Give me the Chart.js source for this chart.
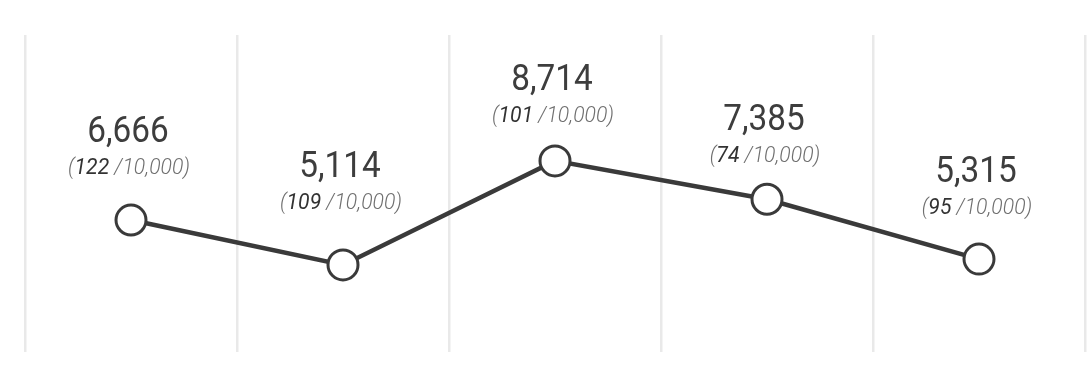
<!DOCTYPE html>
<html>
<head>
<meta charset="utf-8">
<script src="https://cdn.jsdelivr.net/npm/chart.js@4"></script>
<style>
  html, body { margin: 0; padding: 0; background: #fff; }
</style>
</head>
<body>
<canvas id="c" width="1089" height="371"></canvas>
<script>
// five periods, incident count + rate per 10,000
const periods = ["P1", "P2", "P3", "P4", "P5"];
const counts = [6666, 5114, 8714, 7385, 5315];
const rates = [122, 109, 101, 74, 95];
const rateBase = "10,000";

const FONT = "Roboto, 'Liberation Sans', sans-serif";
const labelLift = [78, 88, 71, 69, 77];   // big-number baseline above its point
const subGap = 32;                        // sub line baseline below big number

// draws "6,666" + "(122 /10,000)" above every point
const pointLabels = {
  id: "pointLabels",
  afterDatasetsDraw(chart) {
    const ctx = chart.ctx;
    chart.getDatasetMeta(0).data.forEach((pt, i) => {
      const yb = pt.y - labelLift[i];
      ctx.save();
      ctx.translate(pt.x - 3, yb);
      ctx.scale(0.9, 1);
      ctx.font = "37px " + FONT;
      ctx.fillStyle = "#3d3d3d";
      ctx.textAlign = "center";
      ctx.textBaseline = "alphabetic";
      ctx.fillText(counts[i].toLocaleString("en-US"), 0, 0);
      ctx.restore();

      const parts = [
        ["(", "italic 300 22.5px ", "#6f6f6f"],
        [String(rates[i]), "italic 400 22.5px ", "#333"],
        [" /" + rateBase + ")", "italic 300 22.5px ", "#6f6f6f"],
      ];
      ctx.save();
      ctx.translate(pt.x - 2, yb + subGap);
      ctx.scale(0.94, 1);
      ctx.textAlign = "left";
      ctx.textBaseline = "alphabetic";
      let w = 0;
      parts.forEach(p => { ctx.font = p[1] + FONT; w += ctx.measureText(p[0]).width; });
      let x = -w / 2;
      parts.forEach(p => {
        ctx.font = p[1] + FONT;
        ctx.fillStyle = p[2];
        ctx.fillText(p[0], x, 0);
        x += ctx.measureText(p[0]).width;
      });
      ctx.restore();
    });
  }
};

new Chart(document.getElementById("c"), {
  type: "line",
  data: {
    labels: periods,
    datasets: [{
      data: counts,
      borderColor: "#3a3a3a",
      borderWidth: 4.5,
      tension: 0,
      pointRadius: 15,
      pointHoverRadius: 15,
      pointBorderWidth: 3,
      pointBackgroundColor: "#fff",
      pointBorderColor: "#3a3a3a",
    }]
  },
  options: {
    responsive: false,
    animation: false,
    devicePixelRatio: 1,
    layout: { autoPadding: false, padding: { left: 25, right: 4, top: 35, bottom: 19 } },
    plugins: { legend: { display: false }, tooltip: { enabled: false } },
    scales: {
      x: {
        offset: true,
        grid: { offset: true, color: "#e9e9e9", lineWidth: 2.5, drawTicks: false },
        border: { display: false },
        ticks: { display: false },
      },
      y: { display: false, min: 2100, max: 13070 },
    },
  },
  plugins: [pointLabels],
});
</script>
</body>
</html>
